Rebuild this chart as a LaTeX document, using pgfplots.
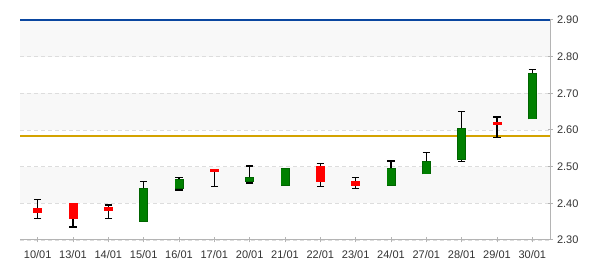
\documentclass[border=0pt]{standalone}
\usepackage{fontspec}
\setmainfont{Liberation Sans}
\usepackage{pgfplots}
\usepackage{pgfplotstable}
\pgfplotsset{compat=1.18}
\definecolor{bandgray}{HTML}{F8F8F8}
\definecolor{gridgray}{HTML}{DDDDDD}
\definecolor{axgray}{HTML}{B4B4B4}
\definecolor{txtgray}{HTML}{333333}
\definecolor{cred}{HTML}{FF0000}
\definecolor{cgreen}{HTML}{008000}
\definecolor{cgreenb}{HTML}{006400}
\definecolor{refgold}{RGB}{212,163,0}
\definecolor{refblue}{RGB}{10,70,160}

% x  low  high
\pgfplotstableread{
x low high
0 2.359 2.411
1 2.335 2.399
2 2.359 2.395
3 2.352 2.460
4 2.436 2.471
5 2.446 2.491
6 2.455 2.502
7 2.451 2.493
8 2.446 2.509
9 2.441 2.471
10 2.451 2.515
11 2.481 2.539
12 2.514 2.651
13 2.580 2.635
14 2.631 2.765
}\whiskers
% red bodies: x lo hi
\pgfplotstableread{
x lo hi
0 2.374 2.386
1 2.358 2.401
2 2.380 2.390
5 2.486 2.493
8 2.459 2.502
9 2.448 2.460
13 2.614 2.621
}\redbodies
% green bodies: x lo hi
\pgfplotstableread{
x lo hi
3 2.350 2.442
4 2.440 2.466
6 2.459 2.472
7 2.448 2.496
10 2.448 2.496
11 2.479 2.515
12 2.518 2.605
14 2.629 2.755
}\greenbodies

\begin{document}
\begin{tikzpicture}
\begin{axis}[
  name=ax,
  set layers,
  scale only axis,
  width=530bp, height=220bp,
  xmin=-0.5, xmax=14.5,
  ymin=2.30, ymax=2.90,
  axis x line*=bottom,
  axis y line*=right,
  axis line style={axgray, line width=1bp},
  xtick={0,...,14},
  xticklabels={10/01,13/01,14/01,15/01,16/01,17/01,20/01,21/01,22/01,23/01,24/01,27/01,28/01,29/01,30/01},
  ytick={2.30,2.40,2.50,2.60,2.70,2.80,2.90},
  yticklabels={2.30,2.40,2.50,2.60,2.70,2.80,2.90},
  tick style={axgray, line width=1bp},
  major tick length=5bp,
  tick align=center,
  ymajorgrids,
  grid style={gridgray, dash pattern=on 4bp off 3bp, line width=0.8bp},
  ticklabel style={font=\fontsize{11bp}{13bp}\selectfont, text=txtgray},
  xticklabel style={yshift=-5bp},
  yticklabel style={xshift=1bp},
  clip=false,
]
% background bands
\addplot[fill=bandgray, draw=none, on layer=axis background] coordinates {(-0.5,2.8) (14.5,2.8) (14.5,2.9) (-0.5,2.9)} -- cycle;
\addplot[fill=bandgray, draw=none, on layer=axis background] coordinates {(-0.5,2.6) (14.5,2.6) (14.5,2.7) (-0.5,2.7)} -- cycle;
\addplot[fill=bandgray, draw=none, on layer=axis background] coordinates {(-0.5,2.4) (14.5,2.4) (14.5,2.5) (-0.5,2.5)} -- cycle;
% reference lines
\addplot[draw=refblue, line width=1.3bp, mark=none] coordinates {(-0.5,2.90) (14.5,2.90)};
\addplot[draw=refgold, line width=1.3bp, mark=none] coordinates {(-0.5,2.584) (14.5,2.584)};
% whiskers
\addplot[draw=none, mark=none,
  error bars/.cd, y dir=plus, y explicit,
  error bar style={black, line width=1.5bp},
  error mark options={rotate=90, mark size=3.8bp, line width=1.5bp, black}]
  table[x=x, y=low, y error expr=\thisrow{high}-\thisrow{low}] {\whiskers};
\addplot[draw=none, mark=none,
  error bars/.cd, y dir=minus, y explicit,
  error bar style={black, line width=1.5bp},
  error mark options={rotate=90, mark size=3.8bp, line width=1.5bp, black}]
  table[x=x, y=high, y error expr=\thisrow{high}-\thisrow{low}] {\whiskers};
% red bodies
\addplot[draw=none, mark=none,
  error bars/.cd, y dir=plus, y explicit,
  error bar style={cred, line width=9bp},
  error mark=none]
  table[x=x, y=lo, y error expr=\thisrow{hi}-\thisrow{lo}] {\redbodies};
% green bodies: border then fill
\addplot[draw=none, mark=none,
  error bars/.cd, y dir=plus, y explicit,
  error bar style={cgreenb, line width=9bp},
  error mark=none]
  table[x=x, y=lo, y error expr=\thisrow{hi}-\thisrow{lo}] {\greenbodies};
\addplot[draw=none, mark=none,
  error bars/.cd, y dir=plus, y explicit,
  error bar style={cgreen, line width=7.4bp},
  error mark=none]
  table[x=x, y expr=\thisrow{lo}+0.0023, y error expr=\thisrow{hi}-\thisrow{lo}-0.0046] {\greenbodies};
\end{axis}
\path (ax.south west) ++(-20bp,-30bp);
\path (ax.north east) ++(50bp,20bp);
\end{tikzpicture}
\end{document}
